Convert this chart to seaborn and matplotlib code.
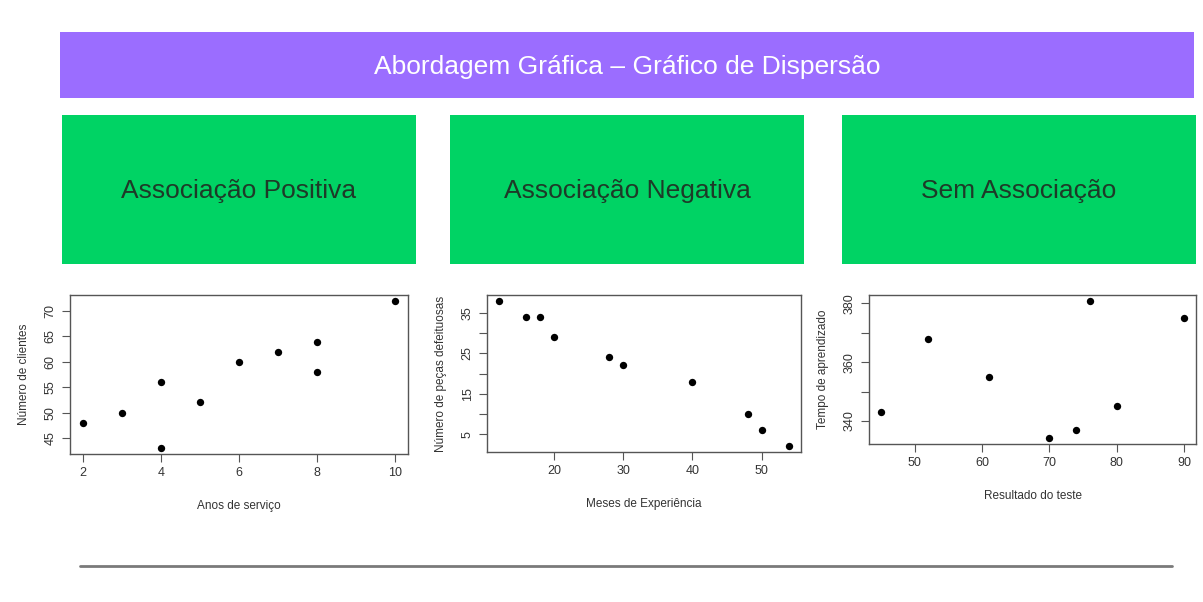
import matplotlib
matplotlib.use("Agg")
import matplotlib.pyplot as plt
import seaborn as sns
import pandas as pd
from matplotlib.patches import Rectangle

# dados
anos_servico = [2, 3, 4, 4, 5, 6, 7, 8, 8, 10]
num_clientes = [48, 50, 56, 43, 52, 60, 62, 64, 58, 72]

meses_exp = [12, 16, 18, 20, 28, 30, 40, 48, 50, 54]
pecas_def = [38, 34, 34, 29, 24, 22, 18, 10, 6, 2]

resultado_teste = [45, 52, 61, 70, 74, 76, 80, 90]
tempo_aprend = [343, 368, 355, 334, 337, 381, 345, 375]

titulo = "Abordagem Gráfica – Gráfico de Dispersão"
subtitulos = ["Associação Positiva", "Associação Negativa", "Sem Associação"]

sns.set_style("white")
plt.rcParams['font.family'] = ['Liberation Sans', 'DejaVu Sans']

W, H = 1203, 602
fig = plt.figure(figsize=(W / 100, H / 100), dpi=100)

# camada de fundo em pixels
bg = fig.add_axes([0, 0, 1, 1])
bg.set_xlim(0, W)
bg.set_ylim(H, 0)
bg.axis('off')

bg.add_patch(Rectangle((60, 32), 1134, 66, color='#9b6dff', lw=0))
bg.text(627, 67, titulo, color='white', fontsize=19, ha='center', va='center')

box_x = [62, 450, 842]
for bx, txt in zip(box_x, subtitulos):
    bg.add_patch(Rectangle((bx, 115), 354, 149, color='#00d364', lw=0))
    bg.text(bx + 177, 191, txt, color='#1e3a28', fontsize=19, ha='center', va='center')

bg.plot([80, 1172], [566, 566], color='#7a7a7a', lw=2)


def r_style(ax, xlim, ylim, xticks, yticks, ylabels, xlabel, ylabel):
    ax.set_xlim(*xlim)
    ax.set_ylim(*ylim)
    ax.set_xticks(xticks)
    ax.set_yticks(yticks)
    ax.set_yticklabels(ylabels, rotation=90, va='center')
    ax.set_xlabel(xlabel, fontsize=8.5, color='#333333', labelpad=15)
    ax.set_ylabel(ylabel, fontsize=8.5, color='#333333', labelpad=11)
    ax.tick_params(direction='out', length=6, width=0.8, colors='#555555',
                   labelcolor='#333333', labelsize=9, left=True, bottom=True)
    for s in ax.spines.values():
        s.set_color('#555555')
        s.set_linewidth(1.0)
    ax.grid(False)


def pad(v):
    lo, hi = min(v), max(v)
    d = (hi - lo) * 0.04
    return lo - d, hi + d


# grafico 1
df1 = pd.DataFrame({'x': anos_servico, 'y': num_clientes})
ax1 = fig.add_axes([70 / W, 1 - 454 / H, 338 / W, 159 / H])
sns.scatterplot(data=df1, x='x', y='y', ax=ax1, color='black', s=28, edgecolor='black', linewidth=0)
r_style(ax1, pad(anos_servico), pad(num_clientes), [2, 4, 6, 8, 10],
        [45, 50, 55, 60, 65, 70], ['45', '50', '55', '60', '65', '70'],
        'Anos de serviço', 'Número de clientes')

# grafico 2
df2 = pd.DataFrame({'x': meses_exp, 'y': pecas_def})
ax2 = fig.add_axes([487 / W, 1 - 452 / H, 314 / W, 157 / H])
sns.scatterplot(data=df2, x='x', y='y', ax=ax2, color='black', s=28, edgecolor='black', linewidth=0)
r_style(ax2, pad(meses_exp), pad(pecas_def), [20, 30, 40, 50],
        [5, 10, 15, 20, 25, 30, 35], ['5', '', '15', '', '25', '', '35'],
        'Meses de Experiência', 'Número de peças defeituosas')

# grafico 3
df3 = pd.DataFrame({'x': resultado_teste, 'y': tempo_aprend})
ax3 = fig.add_axes([869 / W, 1 - 444 / H, 327 / W, 149 / H])
sns.scatterplot(data=df3, x='x', y='y', ax=ax3, color='black', s=28, edgecolor='black', linewidth=0)
r_style(ax3, pad(resultado_teste), pad(tempo_aprend), [50, 60, 70, 80, 90],
        [340, 350, 360, 370, 380], ['340', '', '360', '', '380'],
        'Resultado do teste', 'Tempo de aprendizado')

fig.savefig('out.png', dpi=100)
